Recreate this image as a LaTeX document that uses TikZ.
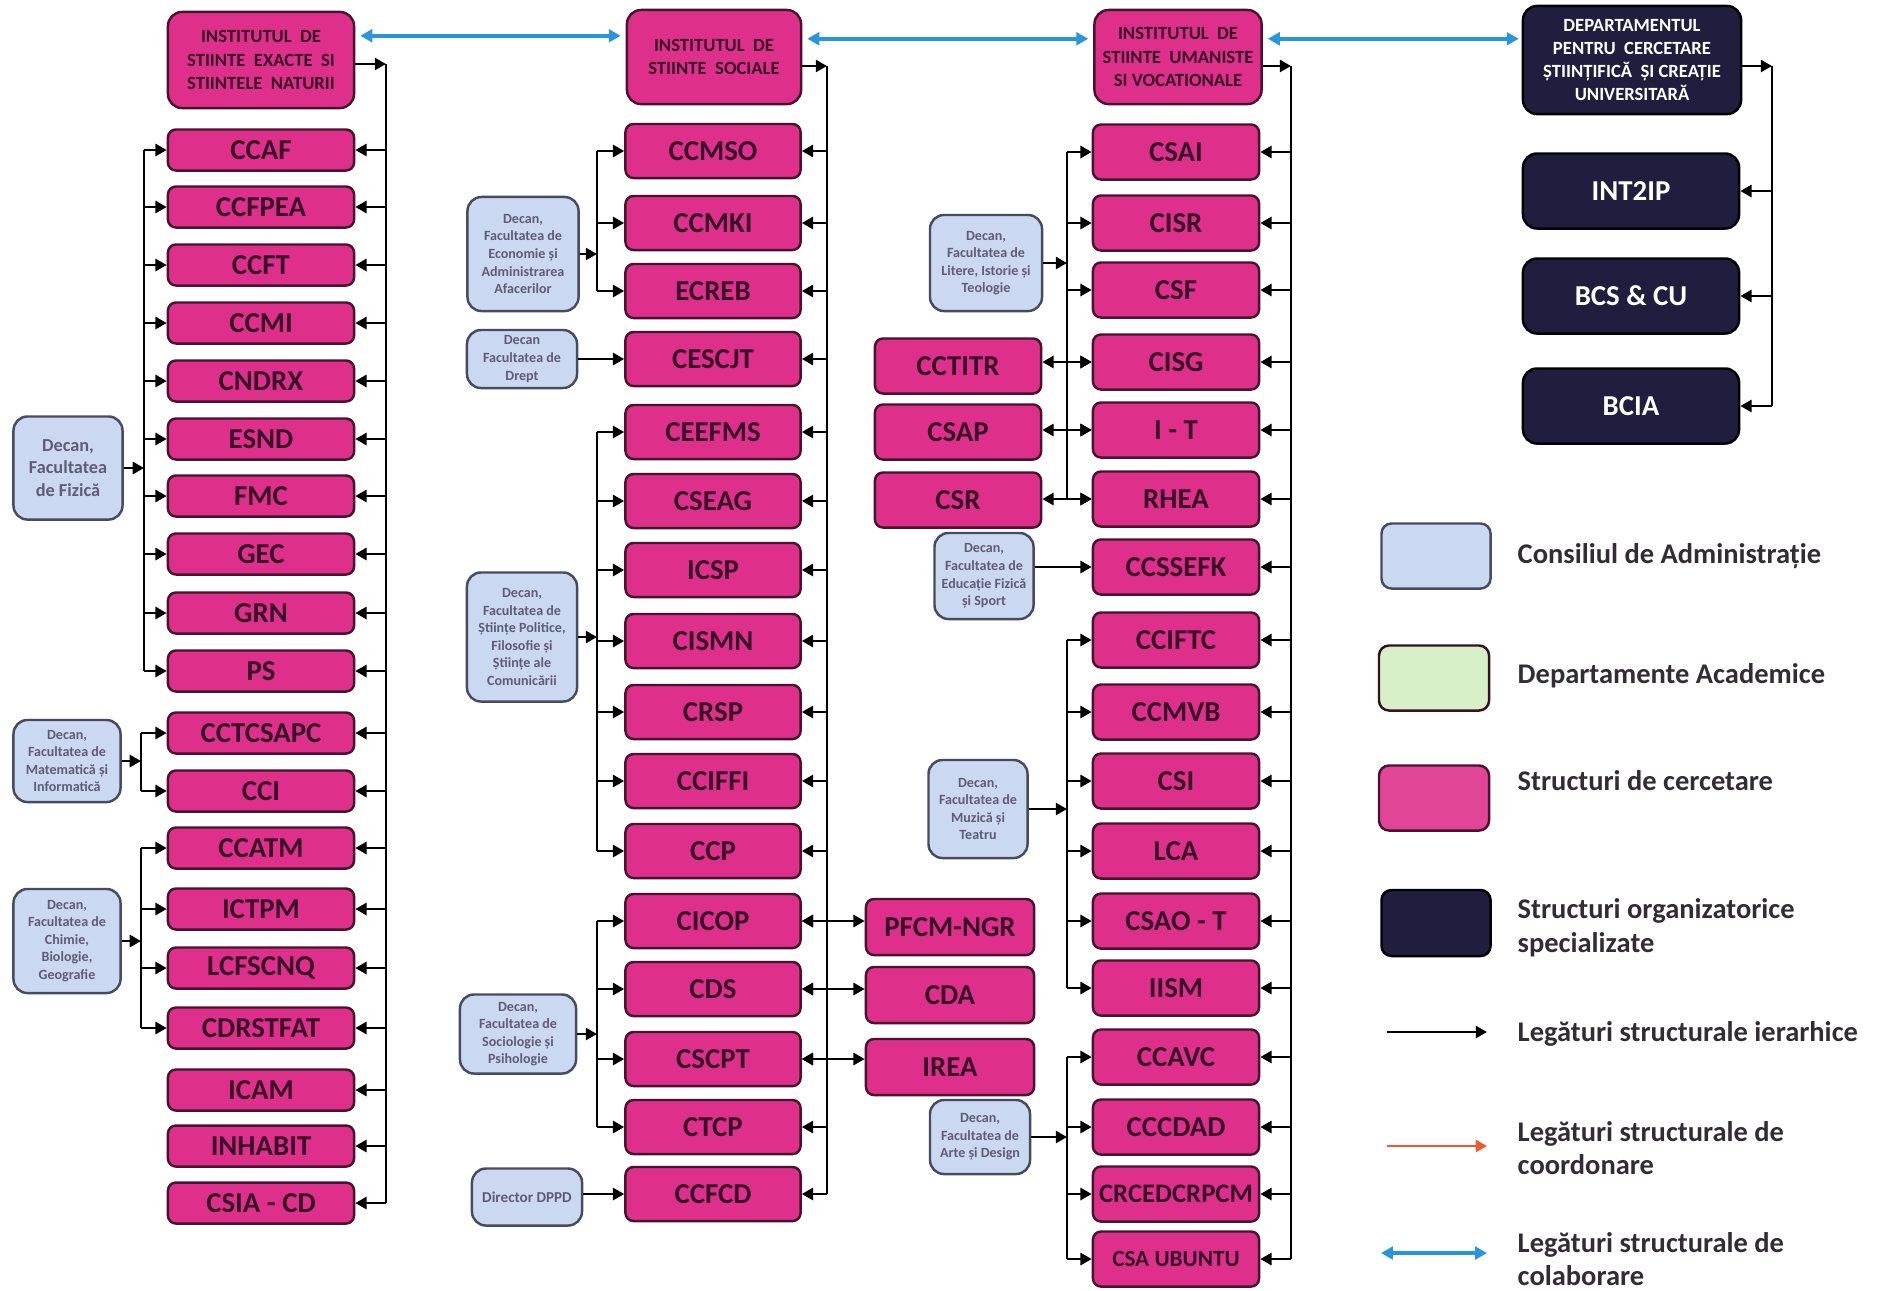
\documentclass[tikz,border=0pt]{standalone}
\usepackage{fontspec}
\setmainfont{Carlito}
\usetikzlibrary{arrows.meta}
\definecolor{respink}{RGB}{222,48,138}
\definecolor{resline}{RGB}{70,20,45}
\definecolor{restext}{RGB}{55,15,40}
\definecolor{decblue}{RGB}{202,216,242}
\definecolor{decline}{RGB}{70,75,95}
\definecolor{dectext}{RGB}{95,92,118}
\definecolor{acadgreen}{RGB}{216,240,200}
\definecolor{orgnavy}{RGB}{32,29,62}
\definecolor{coordorange}{RGB}{240,90,40}
\definecolor{collabblue}{RGB}{40,150,222}
\definecolor{legtext}{RGB}{50,45,50}

\begin{document}
\begin{tikzpicture}[x=0.01cm, y=-0.01cm,
    cell/.style={draw=resline, line width=0.7pt, rounded corners=0.08cm, inner sep=0pt, align=center},
    res/.style={cell, fill=respink, text=restext, font=\fontsize{8.2}{10}\selectfont\bfseries},
    resA/.style={res, minimum width=1.86cm, minimum height=0.41cm},
    resB/.style={res, minimum width=1.75cm, minimum height=0.54cm},
    resC/.style={res, minimum width=1.66cm, minimum height=0.55cm},
    inst/.style={cell, fill=respink, text=restext, rounded corners=0.14cm, font=\fontsize{5.3}{6.6}\selectfont\bfseries},
    org/.style={cell, draw=black, fill=orgnavy, text=white, rounded corners=0.14cm, minimum width=2.16cm, minimum height=0.75cm, font=\fontsize{8.2}{10}\selectfont\bfseries},
    dec/.style={cell, draw=decline, fill=decblue, text=dectext, rounded corners=0.14cm, font=\fontsize{4}{5}\selectfont\bfseries},
    hier/.style={line width=0.8pt, -{Triangle[length=3.2pt,width=3.4pt]}},
    both/.style={line width=0.8pt, {Triangle[length=3.2pt,width=3.4pt]}-{Triangle[length=3.2pt,width=3.4pt]}},
    collab/.style={collabblue, line width=1pt, {Triangle[length=3.4pt,width=3.6pt]}-{Triangle[length=3.4pt,width=3.6pt]}},
    bus/.style={line width=0.8pt},
    legend/.style={font=\fontsize{8.1}{9.6}\selectfont\bfseries, text=legtext, anchor=west, align=left, inner sep=0pt}
]
\useasboundingbox (0,0) rectangle (1880,1290);

\node[inst, minimum width=1.86cm, minimum height=0.96cm] (is1) at (261,60) {INSTITUTUL\ \ DE\\STIINTE\ \ EXACTE\ \ SI\\STIINTELE\ \ NATURII};
\node[inst, minimum width=1.74cm, minimum height=0.94cm] (is2) at (714,57) {INSTITUTUL\ \ DE\\STIINTE\ \ SOCIALE};
\node[inst, minimum width=1.67cm, minimum height=0.94cm] (is3) at (1178,57) {INSTITUTUL\ \ DE\\STIINTE\ \ UMANISTE\\SI VOCATIONALE};
\node[org, minimum width=2.18cm, minimum height=1.08cm, font=\fontsize{5.3}{6.6}\selectfont\bfseries] (dcscu) at (1632,60) {DEPARTAMENTUL\\PENTRU\ \ CERCETARE\\ȘTIINȚIFICĂ\ \ ȘI CREAȚIE\\UNIVERSITARĂ};

\node[resA] (ccaf) at (261,150) {CCAF};
\node[resA] (ccfpea) at (261,207) {CCFPEA};
\node[resA] (ccft) at (261,265) {CCFT};
\node[resA] (ccmi) at (261,323) {CCMI};
\node[resA] (cndrx) at (261,381) {CNDRX};
\node[resA] (esnd) at (261,439) {ESND};
\node[resA] (fmc) at (261,496) {FMC};
\node[resA] (gec) at (261,554) {GEC};
\node[resA] (grn) at (261,613) {GRN};
\node[resA] (ps) at (261,671) {PS};
\node[resA] (cctcsapc) at (261,733) {CCTCSAPC};
\node[resA] (cci) at (261,791) {CCI};
\node[resA] (ccatm) at (261,848) {CCATM};
\node[resA] (ictpm) at (261,909) {ICTPM};
\node[resA] (lcfscnq) at (261,968) {LCFSCNQ};
\node[resA] (cdrstfat) at (261,1028) {CDRSTFAT};
\node[resA] (icam) at (261,1090) {ICAM};
\node[resA] (inhabit) at (261,1146) {INHABIT};
\node[resA] (csiacd) at (261,1203) {CSIA - CD};

\node[resB] (ccmso) at (713,151) {CCMSO};
\node[resB] (ccmki) at (713,223) {CCMKI};
\node[resB] (ecreb) at (713,291) {ECREB};
\node[resB] (cescjt) at (713,359) {CESCJT};
\node[resB] (ceefms) at (713,432) {CEEFMS};
\node[resB] (cseag) at (713,501) {CSEAG};
\node[resB] (icsp) at (713,570) {ICSP};
\node[resB] (cismn) at (713,641) {CISMN};
\node[resB] (crsp) at (713,712) {CRSP};
\node[resB] (cciffi) at (713,781) {CCIFFI};
\node[resB] (ccp) at (713,851) {CCP};
\node[resB] (cicop) at (713,921) {CICOP};
\node[resB] (cds) at (713,989) {CDS};
\node[resB] (cscpt) at (713,1059) {CSCPT};
\node[resB] (ctcp) at (713,1127) {CTCP};
\node[resB] (ccfcd) at (713,1194) {CCFCD};

\node[resC, minimum width=1.68cm, minimum height=0.56cm] (pfcmngr) at (950,927) {PFCM-NGR};
\node[resC, minimum width=1.68cm, minimum height=0.56cm] (cda) at (950,995) {CDA};
\node[resC, minimum width=1.68cm, minimum height=0.56cm] (irea) at (950,1067) {IREA};
\node[resC] (cctitr) at (958,366) {CCTITR};
\node[resC] (csap) at (958,432) {CSAP};
\node[resC] (csr) at (958,500) {CSR};

\node[resC] (csai) at (1176,152) {CSAI};
\node[resC] (cisr) at (1176,223) {CISR};
\node[resC] (csf) at (1176,290) {CSF};
\node[resC] (cisg) at (1176,362) {CISG};
\node[resC] (it) at (1176,430) {I - T};
\node[resC] (rhea) at (1176,499) {RHEA};
\node[resC] (ccssefk) at (1176,567) {CCSSEFK};
\node[resC] (cciftc) at (1176,640) {CCIFTC};
\node[resC] (ccmvb) at (1176,712) {CCMVB};
\node[resC] (csi) at (1176,781) {CSI};
\node[resC] (lca) at (1176,851) {LCA};
\node[resC] (csaot) at (1176,921) {CSAO - T};
\node[resC] (iism) at (1176,988) {IISM};
\node[resC] (ccavc) at (1176,1057) {CCAVC};
\node[resC] (cccdad) at (1176,1127) {CCCDAD};
\node[resC, font=\fontsize{7.6}{9}\selectfont\bfseries] (crcedcrpcm) at (1176,1194) {CRCEDCRPCM};
\node[resC, font=\fontsize{6.6}{8}\selectfont\bfseries] (csaubuntu) at (1176,1259) {CSA UBUNTU};

\node[org] (int2ip) at (1631,191) {INT2IP};
\node[org] (bcscu) at (1631,296) {BCS \& CU};
\node[org] (bcia) at (1631,406) {BCIA};

\node[dec, minimum width=1.09cm, minimum height=1.03cm, font=\fontsize{5.2}{6.3}\selectfont\bfseries] (decfiz) at (68,468) {Decan,\\Facultatea\\de Fizică};
\node[dec, minimum width=1.07cm, minimum height=0.82cm] (decmat) at (67,761) {Decan,\\Facultatea de\\Matematică și\\Informatică};
\node[dec, minimum width=1.07cm, minimum height=1.04cm] (decchim) at (67,941) {Decan,\\Facultatea de\\Chimie,\\Biologie,\\Geografie};
\node[dec, minimum width=1.11cm, minimum height=1.14cm] (dececon) at (523,254) {Decan,\\Facultatea de\\Economie și\\Administrarea\\Afacerilor};
\node[dec, minimum width=1.10cm, minimum height=0.58cm] (decdrept) at (522,359) {Decan\\Facultatea de\\Drept};
\node[dec, minimum width=1.10cm, minimum height=1.29cm] (decpol) at (522,637) {Decan,\\Facultatea de\\Științe Politice,\\Filosofie și\\Științe ale\\Comunicării};
\node[dec, minimum width=1.16cm, minimum height=0.79cm] (decsoc) at (518,1034) {Decan,\\Facultatea de\\Sociologie și\\Psihologie};
\node[dec, minimum width=1.10cm, minimum height=0.57cm, font=\fontsize{4.3}{5}\selectfont\bfseries] (dirdppd) at (527,1197) {Director DPPD};
\node[dec, minimum width=1.12cm, minimum height=0.96cm] (declit) at (986,263) {Decan,\\Facultatea de\\Litere, Istorie și\\Teologie};
\node[dec, minimum width=0.99cm, minimum height=0.86cm] (decefs) at (984,576) {Decan,\\Facultatea de\\Educație Fizică\\și Sport};
\node[dec, minimum width=0.99cm, minimum height=0.98cm] (decmuz) at (978,809) {Decan,\\Facultatea de\\Muzică și\\Teatru};
\node[dec, minimum width=1.0cm, minimum height=0.74cm] (decarte) at (980,1137) {Decan,\\Facultatea de\\Arte și Design};

\draw[collab, shorten <=0.05cm, shorten >=0.05cm] ([yshift=-0.25cm]is1.north east) -- ([yshift=-0.25cm]is1.north east -| is2.west);
\draw[collab, shorten <=0.05cm, shorten >=0.05cm] ([yshift=-0.3cm]is2.north east) -- ([yshift=-0.3cm]is2.north east -| is3.west);
\draw[collab, shorten <=0.05cm, shorten >=0.03cm] ([yshift=-0.3cm]is3.north east) -- ([yshift=-0.3cm]is3.north east -| dcscu.west);

\coordinate (r1) at (386,64);
\coordinate (r2) at (827,66);
\coordinate (r3) at (1291,66);
\coordinate (r4) at (1772,66);
\draw[hier] (is1.east |- r1) -- (r1);
\draw[hier] (is2.east |- r2) -- (r2);
\draw[hier] (is3.east |- r3) -- (r3);
\draw[hier] (dcscu.east |- r4) -- (r4);
\draw[bus] (r1) -- (r1 |- csiacd);
\draw[bus] (r2) -- (r2 |- ccfcd);
\draw[bus] (r3) -- (r3 |- csaubuntu);
\draw[bus] (r4) -- (r4 |- bcia);
\foreach \n in {ccaf,ccfpea,ccft,ccmi,cndrx,esnd,fmc,gec,grn,ps,cctcsapc,cci,ccatm,ictpm,lcfscnq,cdrstfat,icam,inhabit,csiacd}
  \draw[hier] (r1 |- \n) -- (\n.east);
\foreach \n in {ccmso,ccmki,ecreb,cescjt,ceefms,cseag,icsp,cismn,crsp,cciffi,ccp,cicop,cds,cscpt,ctcp,ccfcd}
  \draw[hier] (r2 |- \n) -- (\n.east);
\foreach \n in {csai,cisr,csf,cisg,it,rhea,ccssefk,cciftc,ccmvb,csi,lca,csaot,iism,ccavc,cccdad,crcedcrpcm,csaubuntu}
  \draw[hier] (r3 |- \n) -- (\n.east);
\foreach \n in {int2ip,bcscu,bcia}
  \draw[hier] (r4 |- \n) -- (\n.east);

\coordinate (lfiz) at (144,0);
\coordinate (lmat) at (141,0);
\coordinate (lsoc) at (597,0);
\coordinate (lvoc) at (1067,0);
\draw[bus] (lfiz |- ccaf) -- (lfiz |- ps);
\draw[hier] (decfiz.east) -- (decfiz.east -| lfiz);
\foreach \n in {ccaf,ccfpea,ccft,ccmi,cndrx,esnd,fmc,gec,grn,ps}
  \draw[hier] (lfiz |- \n) -- (\n.west);
\draw[bus] (lmat |- cctcsapc) -- (lmat |- cci);
\draw[hier] (decmat.east) -- (decmat.east -| lmat);
\foreach \n in {cctcsapc,cci}
  \draw[hier] (lmat |- \n) -- (\n.west);
\draw[bus] (lmat |- ccatm) -- (lmat |- cdrstfat);
\draw[hier] (decchim.east) -- (decchim.east -| lmat);
\foreach \n in {ccatm,ictpm,lcfscnq,cdrstfat}
  \draw[hier] (lmat |- \n) -- (\n.west);

\draw[bus] (lsoc |- ccmso) -- (lsoc |- ecreb);
\draw[hier] (dececon.east) -- (dececon.east -| lsoc);
\foreach \n in {ccmso,ccmki,ecreb}
  \draw[hier] (lsoc |- \n) -- (\n.west);
\draw[hier] (decdrept.east |- cescjt) -- (cescjt.west);
\draw[bus] (lsoc |- ceefms) -- (lsoc |- ccp);
\draw[hier] (decpol.east) -- (decpol.east -| lsoc);
\foreach \n in {ceefms,cseag,icsp,cismn,crsp,cciffi,ccp}
  \draw[hier] (lsoc |- \n) -- (\n.west);
\draw[bus] (lsoc |- cicop) -- (lsoc |- ctcp);
\draw[hier] (decsoc.east) -- (decsoc.east -| lsoc);
\foreach \n in {cicop,cds,cscpt,ctcp}
  \draw[hier] (lsoc |- \n) -- (\n.west);
\draw[hier] (dirdppd.east |- ccfcd) -- (ccfcd.west);
\draw[both] (cicop.east) -- (cicop.east -| pfcmngr.west);
\draw[both] (cds.east) -- (cds.east -| cda.west);
\draw[both] (cscpt.east) -- (cscpt.east -| irea.west);

\draw[bus] (lvoc |- csai) -- (lvoc |- rhea);
\draw[hier] (declit.east) -- (declit.east -| lvoc);
\foreach \n in {csai,cisr,csf,cisg,it,rhea}
  \draw[hier] (lvoc |- \n) -- (\n.west);
\draw[both] (cisg.west -| cctitr.east) -- (cisg.west);
\draw[both] (it.west -| csap.east) -- (it.west);
\draw[both] (rhea.west -| csr.east) -- (rhea.west);
\draw[hier] (decefs.east |- ccssefk) -- (ccssefk.west);
\draw[bus] (lvoc |- cciftc) -- (lvoc |- iism);
\draw[hier] (decmuz.east) -- (decmuz.east -| lvoc);
\foreach \n in {cciftc,ccmvb,csi,lca,csaot,iism}
  \draw[hier] (lvoc |- \n) -- (\n.west);
\draw[bus] (lvoc |- ccavc) -- (lvoc |- csaubuntu);
\draw[hier] (decarte.east) -- (decarte.east -| lvoc);
\foreach \n in {ccavc,cccdad,crcedcrpcm,csaubuntu}
  \draw[hier] (lvoc |- \n) -- (\n.west);

\node[dec, minimum width=1.09cm, minimum height=0.65cm, rounded corners=0.1cm] (kcons) at (1436,556) {};
\node[cell, fill=acadgreen, draw=resline!80!black, rounded corners=0.1cm, minimum width=1.1cm, minimum height=0.65cm] (kacad) at (1434,678) {};
\node[cell, fill=respink!90!white, rounded corners=0.1cm, minimum width=1.1cm, minimum height=0.65cm] (kres) at (1434,798) {};
\node[org, minimum width=1.09cm, minimum height=0.66cm, rounded corners=0.1cm] (korg) at (1436,923) {};
\node[legend] (tcons) at (1517,556) {Consiliul de Administrație};
\node[legend] (tacad) at (1517,676) {Departamente Academice};
\node[legend] (tres) at (1517,781) {Structuri de cercetare};
\node[legend] (torg) at (1517,928) {Structuri organizatorice\\specializate};
\coordinate (ha) at (1387,1032);
\coordinate (hb) at (1487,1032);
\coordinate (oa) at (1387,1146);
\coordinate (ob) at (1487,1146);
\coordinate (ca) at (1381,1253);
\coordinate (cb) at (1487,1253);
\draw[hier] (ha) -- (hb);
\draw[hier, coordorange] (oa) -- (ob);
\draw[collab] (ca) -- (cb);
\node[legend] (thier) at (1517,1034) {Legături structurale ierarhice};
\node[legend] (tcoord) at (1517,1148) {Legături structurale de\\coordonare};
\node[legend] (tcollab) at (1517,1259) {Legături structurale de\\colaborare};
\end{tikzpicture}
\end{document}
